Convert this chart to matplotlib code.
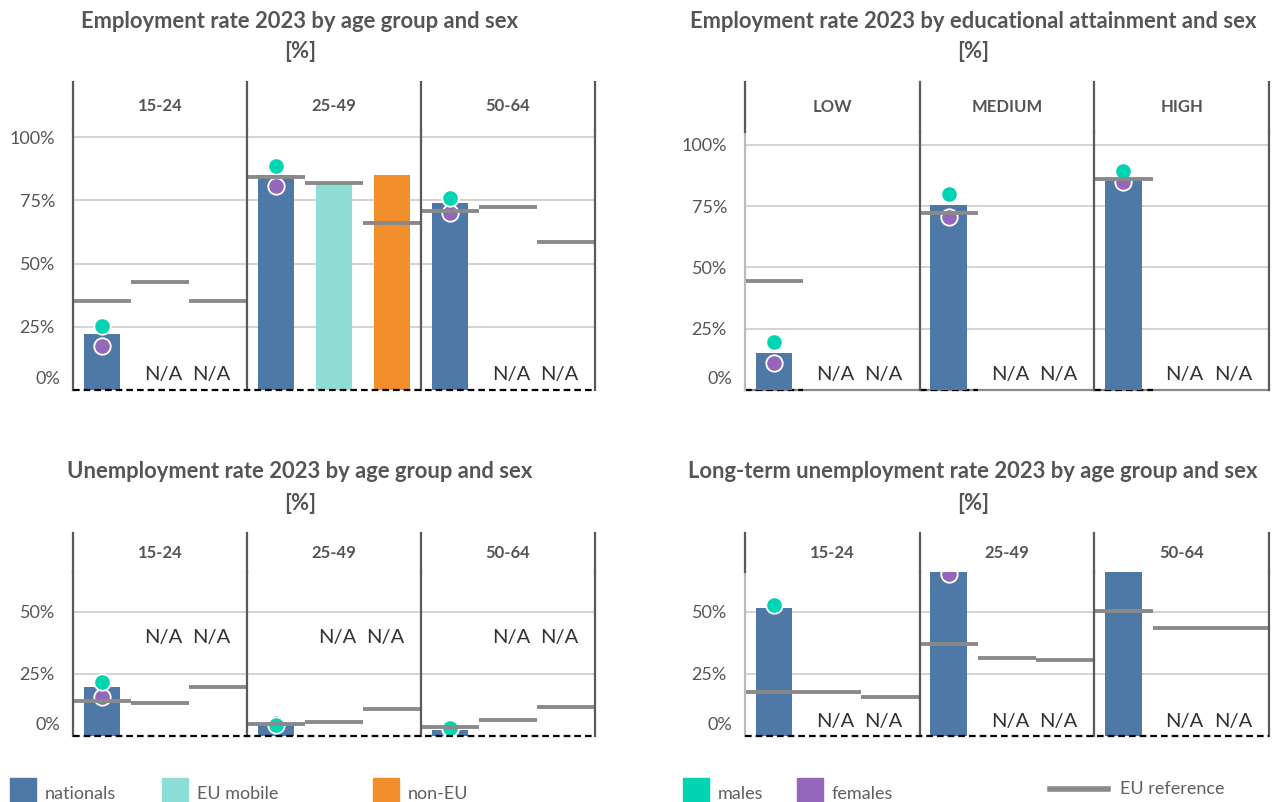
import matplotlib
matplotlib.use("Agg")
import matplotlib.pyplot as plt
from matplotlib.patches import Rectangle
from matplotlib.lines import Line2D

plt.rcParams['font.family'] = ['Lato', 'DejaVu Sans']

# ---------------- data ----------------
age_groups = ['15-24', '25-49', '50-64']
edu_groups = ['LOW', 'MEDIUM', 'HIGH']

# Employment rate by age group
emp_nationals = [22.1, 85.1, 73.8]
emp_eu_mobile = [None, 81.6, None]
emp_non_eu = [None, 85.1, None]
emp_males = [25.3, 88.7, 75.8]
emp_females = [17.5, 80.7, 70.1]
emp_ref_nationals = [35.0, 84.3, 70.7]
emp_ref_eu_mobile = [42.6, 82.0, 72.2]
emp_ref_non_eu = [35.0, 66.0, 58.4]

# Employment rate by educational attainment
edu_nationals = [15.3, 75.7, 85.9]
edu_eu_mobile = [None, None, None]
edu_non_eu = [None, None, None]
edu_males = [19.4, 79.8, 89.5]
edu_females = [11.0, 70.7, 84.8]
edu_ref_nationals = [44.5, 72.4, 86.3]
edu_ref_eu_mobile = [None, None, None]
edu_ref_non_eu = [None, None, None]

# Unemployment rate by age group
unemp_nationals = [19.6, 5.4, 2.4]
unemp_eu_mobile = [None, None, None]
unemp_non_eu = [None, None, None]
unemp_males = [21.8, 4.5, 3.1]
unemp_females = [15.8, 5.4, 3.0]
unemp_ref_nationals = [14.2, 5.0, 3.7]
unemp_ref_eu_mobile = [13.3, 5.8, 6.5]
unemp_ref_non_eu = [19.7, 10.9, 11.7]

# Long-term unemployment rate by age group
ltu_nationals = [51.5, 66.6, 66.6]
ltu_eu_mobile = [None, None, None]
ltu_non_eu = [None, None, None]
ltu_males = [52.6, None, None]
ltu_females = [None, 65.0, None]
ltu_ref_nationals = [17.9, 37.0, 50.3]
ltu_ref_eu_mobile = [17.9, 31.5, 43.3]
ltu_ref_non_eu = [15.8, 30.7, 43.3]

titles = ['Employment rate 2023 by age group and sex',
          'Employment rate 2023 by educational attainment and sex',
          'Unemployment rate 2023 by age group and sex',
          'Long-term unemployment rate 2023 by age group and sex']
unit_label = '[%]'

pop_labels = ['nationals', 'EU mobile', 'non-EU']
sex_labels = ['males', 'females']
ref_label = 'EU reference'

# ---------------- style ----------------
C_NAT = '#4e79a7'
C_EUM = '#8fded6'
C_NON = '#f28e2b'
C_M = '#00d4b3'
C_F = '#9467bd'
C_REF = '#8a8a8a'
C_GRID = '#d3d3d3'
C_SEP = '#5a5a5a'
C_TXT = '#555555'

W, H = 1272, 802
fig = plt.figure(figsize=(W / 100, H / 100), dpi=100)


def rect(x0, y0, x1, y1):
    return [x0 / W, 1 - y1 / H, (x1 - x0) / W, (y1 - y0) / H]


def panel(x0, x1, yh, yp, yb, ymax, groups, nat, eum, non, males, females,
          rnat, reum, rnon, yticks, na_y, right_col, title, title_x, title_y):
    ax = fig.add_axes(rect(x0, yp, x1, yb))
    ax.set_xlim(-0.5, 8.5)
    ax.set_ylim(0, ymax)
    for s in ax.spines.values():
        s.set_visible(False)
    ax.set_xticks([])
    for t in yticks:
        if t > 0:
            ax.axhline(t, color=C_GRID, lw=1.4, zorder=0)
    ax.set_yticks([t for t in yticks if t > 0])
    ax.set_yticklabels([f'{t}%' for t in yticks if t > 0])
    ax.tick_params(axis='y', length=0, pad=13, labelsize=13, labelcolor=C_TXT)
    ax.annotate('0%', xy=(0, 0), xycoords=('axes fraction', 'data'),
                xytext=(-13, 11), textcoords='offset pixels', ha='right',
                va='center', fontsize=13, color=C_TXT)

    bw = 0.63
    series = [(nat, C_NAT), (eum, C_EUM), (non, C_NON)]
    for g in range(3):
        for k, (vals, col) in enumerate(series):
            xs = 3 * g + k
            v = vals[g]
            if v is not None:
                ax.bar(xs, v, width=bw, color=col, zorder=2)
            elif k > 0:
                dx = 0.05 if k == 1 else -0.12
                ax.text(xs + dx, na_y, 'N/A', ha='center', va='center',
                        fontsize=14.5, color='#333333', zorder=6)
        for k, rv in enumerate([rnat, reum, rnon]):
            if rv[g] is not None:
                ax.plot([3 * g + k - 0.5, 3 * g + k + 0.5], [rv[g], rv[g]],
                        color=C_REF, lw=2.8, solid_capstyle='butt', zorder=5)
        if females[g] is not None:
            ax.scatter(3 * g, females[g], s=140, color=C_F, edgecolor='white',
                       linewidth=1.3, zorder=3)
        if males[g] is not None:
            ax.scatter(3 * g, males[g], s=140, color=C_M, edgecolor='white',
                       linewidth=1.3, zorder=4)

    # baseline
    if right_col and yb < 400:
        ax.plot([-0.5, 8.5], [0, 0], color='#8a8a8a', lw=1.6, zorder=1,
                clip_on=False)
        for g in range(3):
            ax.plot([3 * g - 0.5, 3 * g + 0.5], [0, 0], color='black', lw=1.6,
                    ls=(0, (3, 1.8)), zorder=1, clip_on=False)
    else:
        ax.plot([-0.5, 8.5], [0, 0], color='black', lw=1.6,
                ls=(0, (3, 1.8)), zorder=7, clip_on=False)

    # separators
    for xv in [2.5, 5.5, 8.5]:
        ax.axvline(xv, color=C_SEP, lw=1.6, zorder=6, clip_on=False)
    ax.axvline(-0.5, color='#bbbbbb' if right_col else C_SEP,
               lw=1.6, zorder=6, clip_on=False)

    # header
    hx = fig.add_axes(rect(x0, yh, x1, yp))
    hx.set_xlim(-0.5, 8.5)
    hx.set_ylim(0, 1)
    hx.axis('off')
    for xv in [-0.5, 2.5, 5.5, 8.5]:
        hx.plot([xv, xv], [0, 1], color=C_SEP, lw=1.6, clip_on=False)
    for g, name in enumerate(groups):
        hx.text(3 * g + 1, 0.5, name, ha='center', va='center', fontsize=12,
                fontweight='bold', color=C_TXT)

    fig.text(title_x / W, 1 - title_y / H, title, ha='center',
             va='center', fontsize=15.8, fontweight='bold', color=C_TXT)
    fig.text(title_x / W, 1 - (title_y + 31) / H, unit_label, ha='center',
             va='center', fontsize=15.8, fontweight='bold', color=C_TXT)
    return ax


panel(73, 595, 82, 130, 390, 102.8, age_groups, emp_nationals, emp_eu_mobile,
      emp_non_eu, emp_males, emp_females, emp_ref_nationals, emp_ref_eu_mobile,
      emp_ref_non_eu, [0, 25, 50, 75, 100], 6.3, False, titles[0], 300, 21)
panel(745, 1269, 82, 132, 390, 105.3, edu_groups, edu_nationals, edu_eu_mobile,
      edu_non_eu, edu_males, edu_females, edu_ref_nationals, edu_ref_eu_mobile,
      edu_ref_non_eu, [0, 25, 50, 75, 100], 6.5, True, titles[1], 973, 21)
panel(73, 595, 533, 572, 736, 66.0, age_groups, unemp_nationals,
      unemp_eu_mobile, unemp_non_eu, unemp_males, unemp_females,
      unemp_ref_nationals, unemp_ref_eu_mobile, unemp_ref_non_eu,
      [0, 25, 50], 39.5, False, titles[2], 300, 472)
panel(745, 1269, 533, 572, 736, 66.0, age_groups, ltu_nationals,
      ltu_eu_mobile, ltu_non_eu, ltu_males, ltu_females, ltu_ref_nationals,
      ltu_ref_eu_mobile, ltu_ref_non_eu, [0, 25, 50], 6.0, True, titles[3],
      973, 472)

# ---------------- legend ----------------
leg_items = [(10, C_NAT, pop_labels[0]), (162, C_EUM, pop_labels[1]),
             (373, C_NON, pop_labels[2]), (683, C_M, sex_labels[0]),
             (797, C_F, sex_labels[1])]
for x, col, lab in leg_items:
    fig.add_artist(Rectangle((x / W, 0), 26 / W, 24 / H, color=col,
                             transform=fig.transFigure))
    fig.text((x + 35) / W, 1 - 794 / H, lab, ha='left', va='center',
             fontsize=13, color='#5f5f5f')
fig.add_artist(Line2D([1050 / W, 1108 / W], [1 - 789 / H, 1 - 789 / H],
                      color=C_REF, lw=4, transform=fig.transFigure))
fig.text(1120 / W, 1 - 789 / H, ref_label, ha='left', va='center',
         fontsize=13, color='#5f5f5f')

fig.savefig('out.png', dpi=100)
